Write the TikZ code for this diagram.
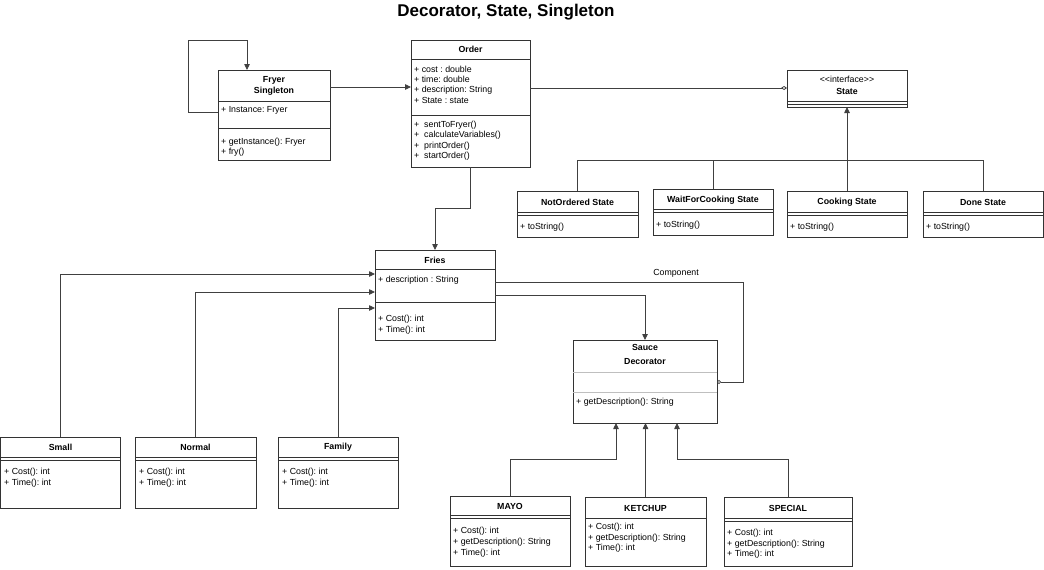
\documentclass[tikz,border=0pt]{standalone}
\usepackage{fontspec}
\setmainfont{Liberation Sans}
\usetikzlibrary{arrows.meta}
\newcommand\boxfont{\fontsize{8.8}{10.5}\selectfont}
\frenchspacing
\begin{document}
\begin{tikzpicture}[x=1pt,y=-1pt,
  cls/.style={draw=black!80, line width=0.8pt, inner sep=0pt, outer sep=0pt, anchor=north west},
  txt/.style={font=\boxfont, inner sep=0pt, anchor=west},
  hd/.style={font=\boxfont\bfseries, inner sep=0pt},
  sepl/.style={draw=black!80, line width=0.7pt},
  lsep/.style={draw=black!25, line width=0.8pt},
  conn/.style={draw=black!75, line width=0.8pt},
  arr/.style={conn, -{Triangle[length=6pt,width=5.5pt]}},
]
\useasboundingbox (0,0) rectangle (1044,570);

% title
\node[font=\fontsize{17}{20}\selectfont\bfseries, inner sep=0pt] (title) at (506,12) {Decorator, State, Singleton};

% ---------- Fryer
\node[cls, minimum width=112pt, minimum height=90pt] (fryer) at (218,70) {};
\node[hd] at (274,80) {Fryer};
\node[hd] at (274,91) {Singleton};
\draw[sepl] (218,101) -- (330,101);
\node[txt] at (221,110) {+ Instance: Fryer};
\draw[sepl] (218,128) -- (330,128);
\node[txt] at (221,142) {+ getInstance(): Fryer};
\node[txt] at (221,152) {+ fry()};

% ---------- Order
\node[cls, minimum width=119pt, minimum height=127pt] (order) at (411,40) {};
\node[hd] at (470.5,49) {Order};
\draw[sepl] (411,59) -- (530,59);
\node[txt] at (414,69) {+ cost : double};
\node[txt] at (414,79.5) {+ time: double};
\node[txt] at (414,90) {+ description: String};
\node[txt] at (414,100.5) {+ State : state};
\draw[sepl] (411,115) -- (530,115);
\node[txt] at (414,125) {+\ \ sentToFryer()};
\node[txt] at (414,135.5) {+\ \ calculateVariables()};
\node[txt] at (414,146) {+\ \ printOrder()};
\node[txt] at (414,156.5) {+\ \ startOrder()};

% ---------- State interface
\node[cls, minimum width=120pt, minimum height=37pt] (state) at (787,70) {};
\node[font=\boxfont, inner sep=0pt] at (847,79.5) {{<}{<}interface{>}{>}};
\node[hd] at (847,91) {State};
\draw[sepl] (787,101) -- (907,101);
\draw[sepl] (787,104) -- (907,104);

% ---------- concrete states
\node[cls, minimum width=121pt, minimum height=46pt] (notord) at (517,191) {};
\node[hd] at (577.5,202) {NotOrdered State};
\draw[sepl] (517,212) -- (638,212);
\draw[sepl] (517,215) -- (638,215);
\node[txt] at (520,227) {+ toString()};

\node[cls, minimum width=120pt, minimum height=46pt] (waitfc) at (653,189) {};
\node[hd] at (713,200) {WaitForCooking State};
\draw[sepl] (653,209) -- (773,209);
\draw[sepl] (653,212) -- (773,212);
\node[txt] at (656,225) {+ toString()};

\node[cls, minimum width=120pt, minimum height=46pt] (cooking) at (787,191) {};
\node[hd] at (847,202) {Cooking State};
\draw[sepl] (787,212) -- (907,212);
\draw[sepl] (787,215) -- (907,215);
\node[txt] at (790,227) {+ toString()};

\node[cls, minimum width=120pt, minimum height=46pt] (done) at (923,191) {};
\node[hd] at (983,202) {Done State};
\draw[sepl] (923,212) -- (1043,212);
\draw[sepl] (923,215) -- (1043,215);
\node[txt] at (926,227) {+ toString()};

% ---------- Fries
\node[cls, minimum width=120pt, minimum height=90pt] (fries) at (375,250) {};
\node[hd] at (435,260) {Fries};
\draw[sepl] (375,269) -- (495,269);
\node[txt] at (378,280) {+ description : String};
\draw[sepl] (375,302) -- (495,302);
\node[txt] at (378,319) {+ Cost(): int};
\node[txt] at (378,330) {+ Time(): int};

% ---------- Sauce Decorator
\node[cls, minimum width=144pt, minimum height=83pt] (deco) at (573,340) {};
\node[hd] at (645,347) {Sauce};
\node[hd] at (645,362) {Decorator};
\draw[lsep] (573,372) -- (717,372);
\draw[lsep] (573,392) -- (717,392);
\node[txt] at (576,402) {+ getDescription(): String};

% ---------- Small / Normal / Family
\node[cls, minimum width=119.5pt, minimum height=71pt] (small) at (0.5,437) {};
\node[hd] at (60.5,447) {Small};
\draw[sepl] (0.5,457) -- (120,457);
\draw[sepl] (0.5,460) -- (120,460);
\node[txt] at (4,472) {+ Cost(): int};
\node[txt] at (4,483) {+ Time(): int};

\node[cls, minimum width=121pt, minimum height=71pt] (normal) at (135,437) {};
\node[hd] at (195.5,447) {Normal};
\draw[sepl] (135,457) -- (256,457);
\draw[sepl] (135,460) -- (256,460);
\node[txt] at (139,472) {+ Cost(): int};
\node[txt] at (139,483) {+ Time(): int};

\node[cls, minimum width=120pt, minimum height=71pt] (family) at (278,437) {};
\node[hd] at (338,447) {Family};
\draw[sepl] (278,457) -- (398,457);
\draw[sepl] (278,460) -- (398,460);
\node[txt] at (282,472) {+ Cost(): int};
\node[txt] at (282,483) {+ Time(): int};

% ---------- MAYO / KETCHUP / SPECIAL
\node[cls, minimum width=120pt, minimum height=70pt] (mayo) at (450,496) {};
\node[hd] at (510,506) {MAYO};
\draw[sepl] (450,515) -- (570,515);
\draw[sepl] (450,518) -- (570,518);
\node[txt] at (453,531) {+ Cost(): int};
\node[txt] at (453,542) {+ getDescription(): String};
\node[txt] at (453,553) {+ Time(): int};

\node[cls, minimum width=121pt, minimum height=69pt] (ketchup) at (585,497) {};
\node[hd] at (645.5,508) {KETCHUP};
\draw[sepl] (585,518) -- (706,518);
\node[txt] at (588,527) {+ Cost(): int};
\node[txt] at (588,538) {+ getDescription(): String};
\node[txt] at (588,548) {+ Time(): int};

\node[cls, minimum width=128pt, minimum height=69pt] (special) at (724,497) {};
\node[hd] at (788,508) {SPECIAL};
\draw[sepl] (724,518) -- (852,518);
\draw[sepl] (724,521) -- (852,521);
\node[txt] at (727,533) {+ Cost(): int};
\node[txt] at (727,544) {+ getDescription(): String};
\node[txt] at (727,554) {+ Time(): int};

% ---------- connectors
\draw[arr] (fryer.west |- 0,112) -| (188,40) -| (fryer.north -| 247,0);
\draw[arr] (fryer.east |- 0,87) -- (order.west |- 0,87);
\draw[conn, -{Diamond[open,length=6pt,width=4pt]}] (order.east |- 0,88) -- (state.west |- 0,88);

\draw[conn] (notord.north) |- (cooking.north |- 0,160);
\draw[conn] (waitfc.north) -- (waitfc.north |- 0,160);
\draw[conn] (done.north) |- (cooking.north |- 0,160);
\draw[arr] (cooking.north) -- (state.south);

\draw[arr] (order.south) -- ++(0,41) -| (fries.north);

\draw[arr] (small.north) |- (fries.west |- 0,274);
\draw[arr] (normal.north) |- (fries.west |- 0,292);
\draw[arr] (family.north) |- (fries.west |- 0,308);

\draw[arr] (fries.east |- 0,295) -| (deco.north);
\draw[conn, -{Circle[open,length=4pt]}] (fries.east |- 0,282) -| (743,382) -- (deco.east |- 0,382);
\node[font=\boxfont, inner sep=0pt] (complbl) at (676,273) {Component};

\draw[arr] (mayo.north) |- (616,459) -- (deco.south -| 616,0);
\draw[arr] (ketchup.north) -- (ketchup.north |- deco.south);
\draw[arr] (special.north) |- (677,459) -- (deco.south -| 677,0);
\end{tikzpicture}
\end{document}
